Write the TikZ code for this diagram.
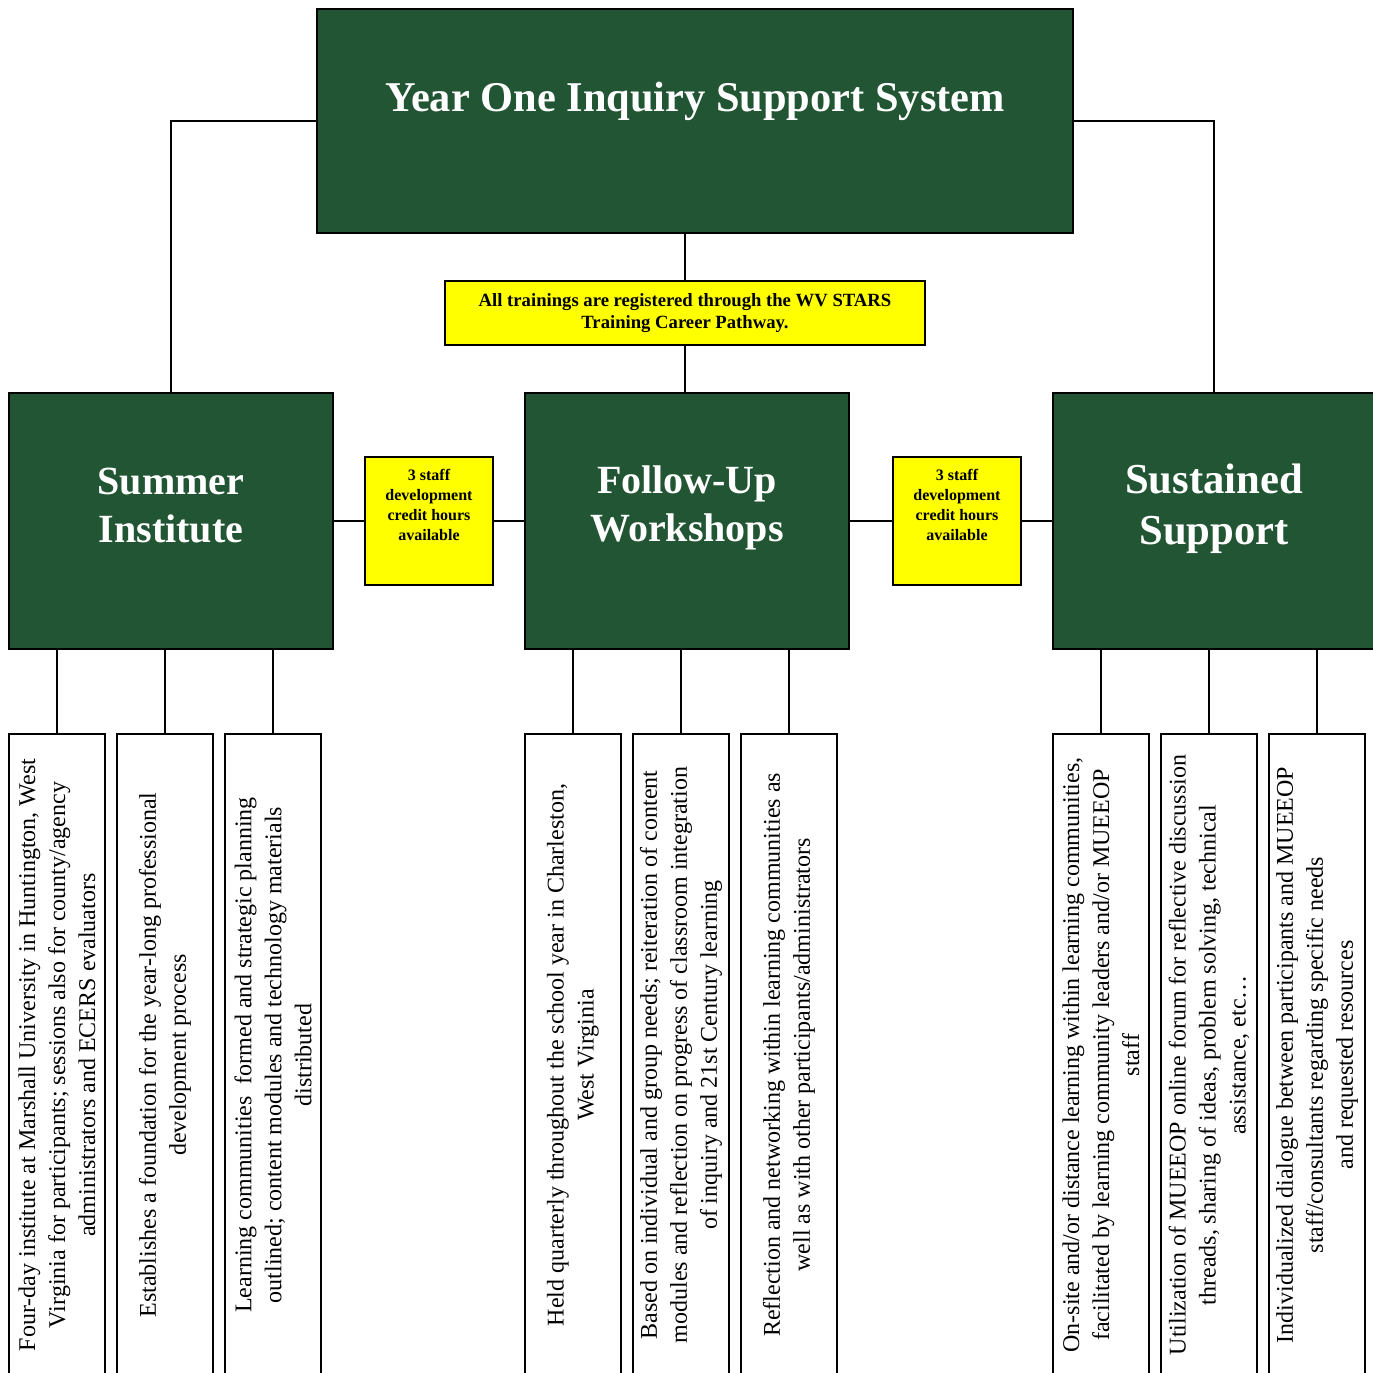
\documentclass[tikz,border=0pt]{standalone}
\usepackage{fontspec}
\setmainfont{Liberation Serif}
\usetikzlibrary{positioning}
\definecolor{boxgreen}{RGB}{34,85,52}
\definecolor{boxyellow}{RGB}{255,255,0}

\begin{document}
\begin{tikzpicture}[x=0.75pt,y=-0.75pt,line width=2pt,
    greenbox/.style={rectangle,draw=black,fill=boxgreen,inner sep=0pt,minimum width=324*0.75pt,minimum height=256*0.75pt},
    creditbox/.style={rectangle,draw=black,fill=boxyellow,inner sep=0pt,minimum width=128*0.75pt,minimum height=128*0.75pt},
    detailbox/.style={rectangle,draw=black,fill=white,rotate=90,inner sep=0pt,minimum width=642*0.75pt,minimum height=96*0.75pt,align=center,font=\fontsize{18}{22.5}\selectfont},
    bigtext/.style={text=white,align=center,font=\bfseries\fontsize{30}{36}\selectfont},
    smalltext/.style={align=center,font=\bfseries\fontsize{12}{14.8}\selectfont}]
    \useasboundingbox (0,0) rectangle (1373,1372);
    % top row
    \node[greenbox, minimum width=756*0.75pt, minimum height=224*0.75pt,
        label={[bigtext, font=\bfseries\fontsize{31.8}{38}\selectfont, yshift=14.5pt]center:Year One Inquiry Support System}] (top) at (695,121) {};
    \node[creditbox, minimum width=480*0.75pt, minimum height=64*0.75pt, align=center,
        font=\bfseries\fontsize{14}{16.5}\selectfont] (stars) at (685,313)
        {All trainings are registered through the WV STARS\\Training Career Pathway.};
    % middle row
    \node[greenbox, label={[bigtext, yshift=12pt]center:Summer\\Institute}] (summer) at (171,521) {};
    \node[creditbox, label={[smalltext, yshift=12pt]center:3 staff\\development\\credit hours\\available}] (credit1) at (429,521) {};
    \node[greenbox, label={[bigtext, yshift=10pt]center:Follow-Up\\Workshops}] (followup) at (687,521) {};
    \node[creditbox, label={[smalltext, yshift=12pt]center:3 staff\\development\\credit hours\\available}] (credit2) at (957,521) {};
    \node[greenbox, minimum width=322*0.75pt,
        label={[bigtext, font=\bfseries\fontsize{32}{38}\selectfont, yshift=9pt]center:Sustained\\Support}] (sustained) at (1214,521) {};
    % bottom row
    \node[detailbox] (summer1) at (57,1055) {Four-day institute at Marshall University in Huntington, West\\Virginia for participants; sessions also for county/agency\\administrators and ECERS evaluators};
    \node[detailbox] (summer2) at (165,1055) {Establishes a foundation for the year-long professional\\development process};
    \node[detailbox] (summer3) at (273,1055) {Learning communities\ \ formed and strategic planning\\outlined; content modules and technology materials\\distributed};
    \node[detailbox] (followup1) at (573,1055) {Held quarterly throughout the school year in Charleston,\\West Virginia};
    \node[detailbox] (followup2) at (681,1055) {Based on individual and group needs; reiteration of content\\modules and reflection on progress of classroom integration\\of inquiry and 21st Century learning};
    \node[detailbox] (followup3) at (789,1055) {Reflection and networking within learning communities as\\well as with other participants/administrators};
    \node[detailbox] (sustained1) at (1101,1055) {On-site and/or distance learning within learning communities,\\facilitated by learning community leaders and/or MUEEOP\\staff};
    \node[detailbox] (sustained2) at (1209,1055) {Utilization of MUEEOP online forum for reflective discussion\\threads, sharing of ideas, problem solving, technical\\assistance, etc…};
    \node[detailbox] (sustained3) at (1317,1055) {Individualized dialogue between participants and MUEEOP\\staff/consultants regarding specific needs\\and requested resources};
    % connectors
    \draw (top.west) -| (summer.north);
    \draw (top.east) -| (sustained.north);
    \draw (stars.north) -- (stars.north |- top.south);
    \draw (stars.south) -- (stars.south |- followup.north);
    \draw (summer.east) -- (credit1.west);
    \draw (credit1.east) -- (followup.west);
    \draw (followup.east) -- (credit2.west);
    \draw (credit2.east) -- (sustained.west);
    \draw (summer1.east |- summer.south) -- (summer1.east);
    \draw (summer2.east |- summer.south) -- (summer2.east);
    \draw (summer3.east |- summer.south) -- (summer3.east);
    \draw (followup1.east |- followup.south) -- (followup1.east);
    \draw (followup2.east |- followup.south) -- (followup2.east);
    \draw (followup3.east |- followup.south) -- (followup3.east);
    \draw (sustained1.east |- sustained.south) -- (sustained1.east);
    \draw (sustained2.east |- sustained.south) -- (sustained2.east);
    \draw (sustained3.east |- sustained.south) -- (sustained3.east);
\end{tikzpicture}
\end{document}
